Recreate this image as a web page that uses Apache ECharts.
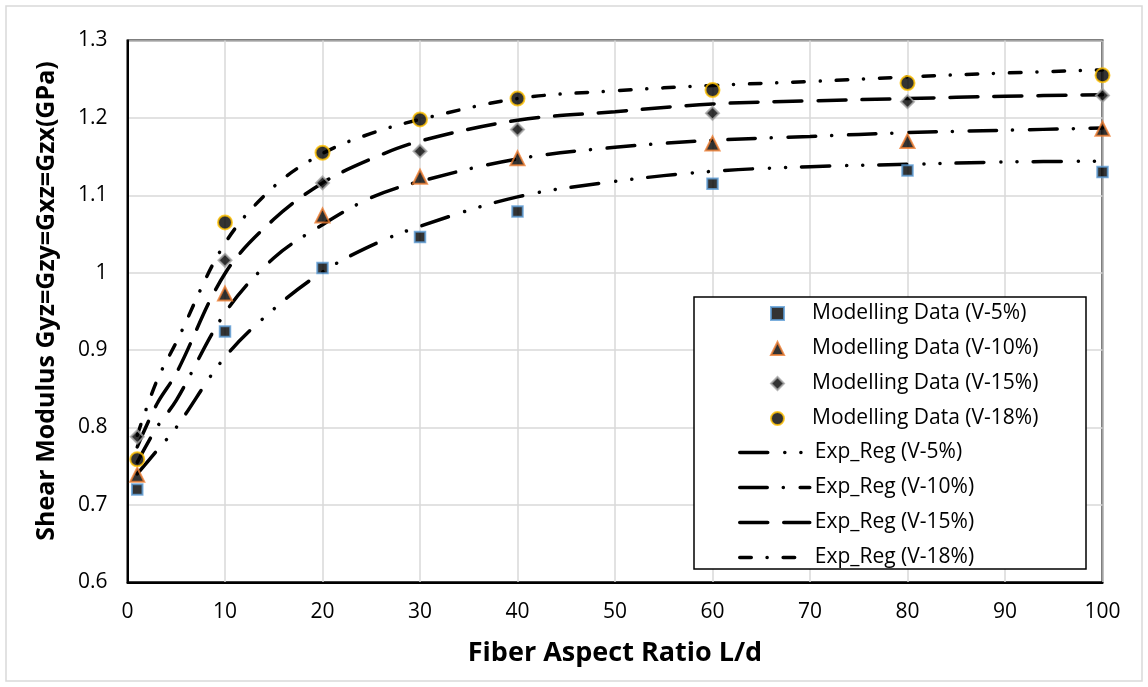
<!DOCTYPE html>
<html>
<head>
<meta charset="utf-8">
<script src="https://cdn.jsdelivr.net/npm/echarts@6/dist/echarts.min.js"></script>
<style>
  html, body { margin: 0; padding: 0; background: #fff; }
  #chart { width: 1148px; height: 687px; }
</style>
</head>
<body>
<div id="chart"></div>
<script>
// modelling data points (L/d vs shear modulus, GPa)
const xPoints = [1, 10, 20, 30, 40, 60, 80, 100];
const dataV5  = [0.720, 0.924, 1.006, 1.046, 1.079, 1.115, 1.132, 1.130];
const dataV10 = [0.739, 0.973, 1.074, 1.124, 1.148, 1.167, 1.170, 1.186];
const dataV15 = [0.788, 1.016, 1.116, 1.157, 1.185, 1.206, 1.221, 1.229];
const dataV18 = [0.759, 1.065, 1.155, 1.198, 1.225, 1.236, 1.245, 1.255];

// regression curves
const fitX   = [1, 3, 5, 10, 15, 20, 25, 30, 40, 50, 60, 70, 80, 90, 100];
const fitV5  = [0.740, 0.770, 0.800, 0.891, 0.953, 1.001, 1.035, 1.060, 1.098, 1.118, 1.131, 1.137, 1.140, 1.143, 1.144];
const fitV10 = [0.755, 0.800, 0.835, 0.948, 1.019, 1.062, 1.097, 1.118, 1.147, 1.162, 1.171, 1.176, 1.181, 1.184, 1.187];
const fitV15 = [0.775, 0.830, 0.870, 0.999, 1.069, 1.116, 1.147, 1.170, 1.197, 1.208, 1.218, 1.222, 1.225, 1.228, 1.230];
const fitV18 = [0.790, 0.860, 0.910, 1.038, 1.111, 1.154, 1.180, 1.198, 1.225, 1.235, 1.242, 1.247, 1.253, 1.258, 1.262];

const scatterNames = ['Modelling Data (V-5%)', 'Modelling Data (V-10%)', 'Modelling Data (V-15%)', 'Modelling Data (V-18%)'];
const lineNames = ['Exp_Reg (V-5%)', 'Exp_Reg (V-10%)', 'Exp_Reg (V-15%)', 'Exp_Reg (V-18%)'];
const xTitle = 'Fiber Aspect Ratio L/d';
const yTitle = 'Shear Modulus Gyz=Gzy=Gxz=Gzx(GPa)';

const FONT = '"Open Sans", sans-serif';

function scatter(name, data, symbol, size, border) {
  return {
    name: name,
    type: 'scatter',
    data: xPoints.map((x, i) => [x, data[i]]),
    symbol: symbol,
    symbolSize: size,
    z: 5,
    itemStyle: { color: '#000', borderColor: border, borderWidth: 2 },
    emphasis: { disabled: true }
  };
}

function fit(name, data, dash) {
  return {
    name: name,
    type: 'line',
    data: fitX.map((x, i) => [x, data[i]]),
    symbol: 'none',
    smooth: 0.35,
    z: 3,
    itemStyle: { color: '#000' },
    lineStyle: { color: '#000', width: 3.5, type: dash, cap: 'round' },
    emphasis: { disabled: true }
  };
}

const chart = echarts.init(document.getElementById('chart'));

chart.setOption({
  animation: false,
  backgroundColor: '#fff',
  grid: {
    left: 127.5, right: 45.5, top: 40.5, bottom: 104.7,
    show: true, borderColor: '#000', borderWidth: 2
  },
  xAxis: {
    type: 'value', min: 0, max: 100, interval: 10,
    axisLine: { show: true, lineStyle: { color: '#000', width: 2 } },
    axisTick: { show: false },
    axisLabel: { color: '#000', fontSize: 21, fontFamily: FONT, margin: 19 },
    splitLine: { show: true, lineStyle: { color: '#D9D9D9', width: 1.5 } }
  },
  yAxis: {
    type: 'value', min: 0.6, max: 1.3, interval: 0.1,
    axisLine: { show: true, lineStyle: { color: '#000', width: 2 } },
    axisTick: { show: false },
    axisLabel: { color: '#000', fontSize: 21, fontFamily: FONT, margin: 20 },
    splitLine: { show: true, lineStyle: { color: '#D9D9D9', width: 1.5 } }
  },
  legend: [
    {
      data: scatterNames,
      orient: 'vertical',
      left: 765, top: 298,
      itemWidth: 13, itemHeight: 13, itemGap: 14,
      selectedMode: false,
      z: 20,
      formatter: name => '{a|' + name + '}',
      textStyle: {
        color: '#000', fontSize: 21, fontFamily: FONT, lineHeight: 20,
        rich: { a: { padding: [0, 0, 0, 23], color: '#000', fontSize: 21, fontFamily: FONT } }
      }
    },
    {
      data: lineNames,
      orient: 'vertical',
      left: 733, top: 437,
      itemWidth: 70, itemHeight: 14, itemGap: 14,
      selectedMode: false,
      z: 20,
      lineStyle: { width: 3.5 },
      itemStyle: { opacity: 0, borderWidth: 0 },
      textStyle: { color: '#000', fontSize: 21, fontFamily: FONT, lineHeight: 20 }
    }
  ],
  graphic: [
    {
      type: 'rect', silent: true, z: -1,
      shape: { x: 6, y: 6, width: 1136, height: 675 },
      style: { fill: 'none', stroke: '#D9D9D9', lineWidth: 1.5 }
    },
    {
      type: 'rect', silent: true, z: 10,
      shape: { x: 694, y: 297, width: 392, height: 272 },
      style: { fill: '#fff', stroke: '#000', lineWidth: 1.5 }
    },
    {
      type: 'text', silent: true, x: 47, y: 301, rotation: Math.PI / 2,
      style: {
        text: yTitle, fill: '#000', font: 'bold 25px "Open Sans"',
        align: 'center', verticalAlign: 'middle'
      }
    },
    {
      type: 'text', silent: true, x: 615, y: 653,
      style: {
        text: xTitle, fill: '#000', font: 'bold 27px "Open Sans"',
        align: 'center', verticalAlign: 'middle'
      }
    }
  ],
  series: [
    scatter(scatterNames[0], dataV5, 'rect', 10.5, '#5B9BD5'),
    scatter(scatterNames[1], dataV10, 'triangle', 14, '#ED7D31'),
    scatter(scatterNames[2], dataV15, 'diamond', 13, '#A5A5A5'),
    scatter(scatterNames[3], dataV18, 'circle', 14, '#FFC000'),
    fit(lineNames[0], fitV5, [28, 17, 0.1, 16, 0.1, 16]),
    fit(lineNames[1], fitV10, [27.5, 16, 0.1, 16.8]),
    fit(lineNames[2], fitV15, [28, 16]),
    fit(lineNames[3], fitV18, [11.5, 15.8, 0.1, 16])
  ]
});
</script>
</body>
</html>
